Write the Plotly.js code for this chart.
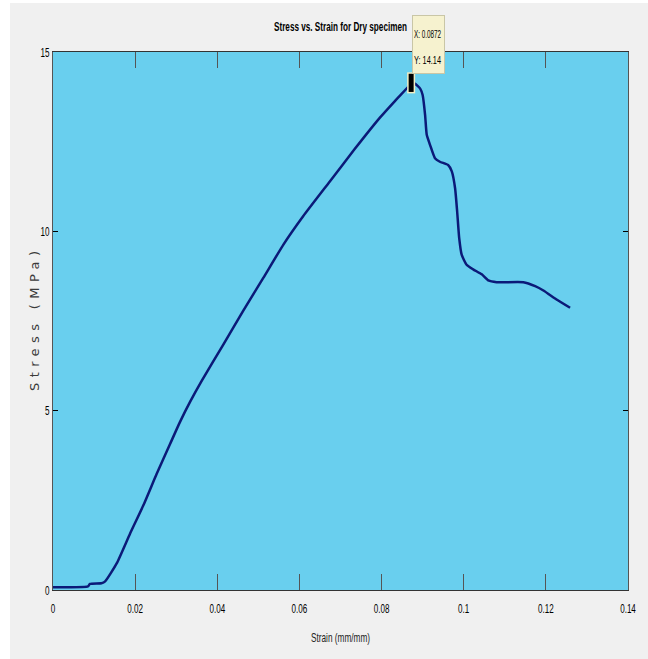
<!DOCTYPE html>
<html>
<head>
<meta charset="utf-8">
<script src="https://cdn.plot.ly/plotly-3.0.1.min.js"></script>
<style>
  html, body { margin: 0; padding: 0; background: #ffffff; width: 648px; height: 659px; overflow: hidden; }
  #chart { position: absolute; left: 10px; top: 3px; width: 638px; height: 656px; }
</style>
</head>
<body>
<div id="chart"></div>
<script>
// Strain (mm/mm) and stress (MPa)
const strain = [0, 0.0085, 0.009, 0.0118, 0.0127, 0.0155, 0.01875, 0.022, 0.02525, 0.0285, 0.0309, 0.0334, 0.0362, 0.0415, 0.0463, 0.0512, 0.0561, 0.0609, 0.0674, 0.0735, 0.0796, 0.0833, 0.0865, 0.0872, 0.0881, 0.0894, 0.0900, 0.0906, 0.0910, 0.0918, 0.0930, 0.0942, 0.0962, 0.0971, 0.0979, 0.0984, 0.0989, 0.0995, 0.1007, 0.1023, 0.1044, 0.1060, 0.1080, 0.1145, 0.1174, 0.1194, 0.1226, 0.1259];
const stress = [0.08, 0.10, 0.17, 0.19, 0.24, 0.74, 1.57, 2.36, 3.24, 4.07, 4.68, 5.25, 5.83, 6.85, 7.78, 8.70, 9.63, 10.42, 11.39, 12.30, 13.17, 13.64, 14.03, 14.14, 14.12, 13.98, 13.80, 13.24, 12.69, 12.41, 12.04, 11.94, 11.85, 11.67, 11.20, 10.56, 9.81, 9.35, 9.07, 8.94, 8.80, 8.63, 8.58, 8.58, 8.47, 8.35, 8.10, 7.87];
const tipX = [0.0872];
const tipY = [14.14];
const tipText = "X: 0.0872<br>Y: 14.14";
const xTicks = [0, 0.02, 0.04, 0.06, 0.08, 0.1, 0.12, 0.14];
const xTickText = ["0", "0.02", "0.04", "0.06", "0.08", "0.1", "0.12", "0.14"];
const yTicks = [0, 5, 10, 15];
const yTickText = ["0", "5", "10", "15"];

const sans = "Liberation Sans, Arial, sans-serif";

const traces = [
  {
    x: strain, y: stress, type: "scatter", mode: "lines",
    line: { color: "#0b1a78", width: 2.5, shape: "spline", smoothing: 0.5 },
    hoverinfo: "skip", showlegend: false
  },
  {
    x: tipX, y: tipY, type: "scatter", mode: "markers",
    marker: { symbol: "line-ns", size: 15, line: { color: "#f3efc4", width: 8 } },
    hoverinfo: "skip", showlegend: false
  },
  {
    x: tipX, y: tipY, type: "scatter", mode: "markers",
    marker: { symbol: "line-ns", size: 13, line: { color: "#000000", width: 5 } },
    hoverinfo: "skip", showlegend: false
  }
];

const layout = {
  width: 638, height: 656,
  margin: { l: 43, r: 20, t: 49, b: 69 },
  paper_bgcolor: "#f0f0f0",
  plot_bgcolor: "#69cfee",
  showlegend: false,
  title: {
    text: "Stress vs. Strain for Dry specimen",
    font: { family: sans, size: 8, weight: "bold", color: "#000000" },
    x: 0.5, xref: "paper", xanchor: "center",
    y: 0.962, yref: "container", yanchor: "middle"
  },
  xaxis: {
    range: [0, 0.14], autorange: false,
    tickvals: xTicks, ticktext: xTickText,
    ticks: "inside", ticklen: 16, tickwidth: 1, tickcolor: "#555555",
    ticklabelstandoff: 6,
    showgrid: false, zeroline: false,
    showline: true, linecolor: "#333333", linewidth: 1, mirror: "ticks",
    tickfont: { family: sans, size: 13, color: "#000000" },
    title: { text: "Strain (mm/mm)", font: { family: sans, size: 13, color: "#222222" }, standoff: 18 }
  },
  yaxis: {
    range: [0, 15], autorange: false,
    tickvals: yTicks, ticktext: yTickText,
    ticks: "inside", ticklen: 5, tickwidth: 1, tickcolor: "#000000",
    showgrid: false, zeroline: false,
    showline: true, linecolor: "#555555", linewidth: 1, mirror: "ticks",
    tickfont: { family: sans, size: 13, color: "#000000" },
    title: { text: "Stress (MPa)", font: { family: "DejaVu Sans, sans-serif", size: 13, color: "#3a3a3a" }, standoff: 4 }
  },
  annotations: [
    {
      x: tipX[0], y: tipY[0], xref: "x", yref: "y",
      text: tipText,
      showarrow: true, arrowcolor: "rgba(0,0,0,0)", arrowwidth: 0.1,
      ax: 17, ay: -38,
      bgcolor: "#f6f2cf", bordercolor: "#c9c6a6", borderwidth: 1,
      width: 29, height: 55, align: "left",
      font: { family: sans, size: 10, color: "#000000" }
    }
  ]
};

function squeeze(el, width, mode) {
  el.setAttribute("textLength", width);
  el.setAttribute("lengthAdjust", mode || "spacingAndGlyphs");
}

Plotly.newPlot("chart", traces, layout, { staticPlot: true, displayModeBar: false }).then(function () {
  const root = document.getElementById("chart");
  // condensed look of the original figure's fonts
  root.querySelectorAll("g.xtick text, g.ytick text").forEach(function (t) {
    squeeze(t, (t.getComputedTextLength() * 0.62).toFixed(1));
  });
  const title = root.querySelector("text.gtitle");
  if (title) {
    squeeze(title, 133);
    const ty = parseFloat(title.getAttribute("y")) || 0;
    const prev = title.getAttribute("transform") || "";
    title.setAttribute("transform", prev + " translate(0," + (ty + 3) + ") scale(1,1.5) translate(0," + (-ty - 3) + ")");
  }
  const xt = root.querySelector("text.xtitle");
  if (xt) squeeze(xt, 59);
  const yt = root.querySelector("text.ytitle");
  if (yt) {
    squeeze(yt, 140, "spacing");
    const g = yt.parentNode;
    g.setAttribute("transform", "translate(12,0)");
  }
  const lines = root.querySelectorAll("text.annotation-text tspan.line");
  lines.forEach(function (l, i) {
    squeeze(l, 27);
    l.setAttribute("dy", i === 0 ? "-0.4em" : "2.2em");
  });
});
</script>
</body>
</html>
